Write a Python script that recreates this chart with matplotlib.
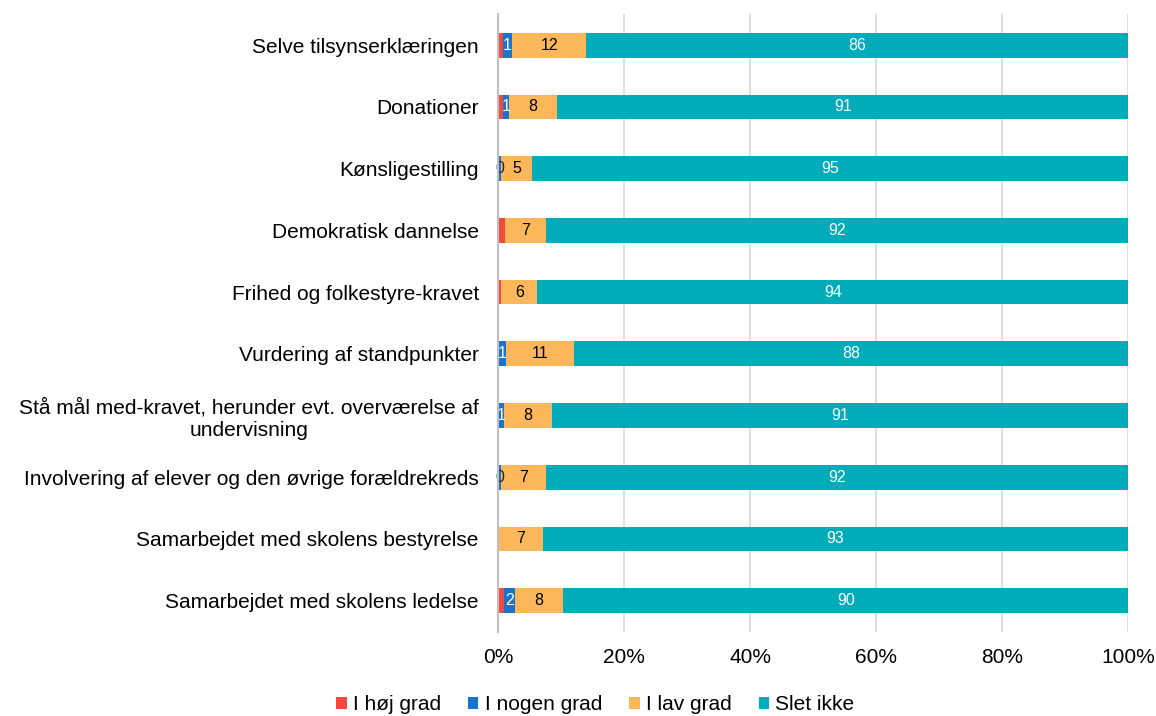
import numpy as np
import matplotlib.pyplot as plt

plt.rcParams['font.family'] = ['Liberation Sans', 'DejaVu Sans']

categories = [
    "Selve tilsynserklæringen",
    "Donationer",
    "Kønsligestilling",
    "Demokratisk dannelse",
    "Frihed og folkestyre-kravet",
    "Vurdering af standpunkter",
    "Stå mål med-kravet, herunder evt. overværelse af\nundervisning",
    "Involvering af elever og den øvrige forældrekreds",
    "Samarbejdet med skolens bestyrelse",
    "Samarbejdet med skolens ledelse",
]
hoej = [0.8, 0.7, 0.0, 1.0, 0.5, 0.0, 0.0, 0.0, 0.0, 0.9]
nogen = [1.4, 1.0, 0.4, 0.0, 0.0, 1.3, 0.9, 0.4, 0.0, 1.8]
lav = [11.8, 7.7, 5.0, 6.6, 5.7, 10.8, 7.7, 7.2, 7.1, 7.6]
slet = [86.0, 90.6, 94.6, 92.4, 93.8, 87.9, 91.4, 92.4, 92.9, 89.7]
series_names = ["I høj grad", "I nogen grad", "I lav grad", "Slet ikke"]
colors = ['#F5493D', '#1874CD', '#FDB75B', '#00ABBA']

fig = plt.figure(figsize=(11.56, 7.16), dpi=100)
ax = fig.add_axes([0.431, 0.118, 0.545, 0.862])

y = np.arange(len(categories))
left = np.zeros(len(categories))
for i, vals in enumerate([hoej, nogen, lav, slet]):
    vals = np.array(vals)
    bars = ax.barh(y, vals, left=left, height=0.4, color=colors[i],
                   label=series_names[i], zorder=3)
    for b, v, l in zip(bars, vals, left):
        cx = l + v / 2
        if i == 0:
            continue
        if i == 1:
            if v <= 0:
                continue
            col = 'white' if round(v) >= 1 else '#222222'
        elif i == 2:
            col = 'black'
        else:
            col = 'white'
        ax.text(cx, b.get_y() + b.get_height() / 2, f"{round(v):d}", ha='center',
                va='center', fontsize=11.5, color=col, zorder=4)
    left = left + vals

ax.set_xlim(0, 100)
ax.set_ylim(len(categories) - 0.5, -0.5)
ax.set_yticks(y)
ax.set_yticklabels(categories, fontsize=15, multialignment='center')
ax.set_xticks([0, 20, 40, 60, 80, 100])
ax.set_xticklabels(['0%', '20%', '40%', '60%', '80%', '100%'], fontsize=15)
ax.tick_params(axis='y', length=0, pad=14)
ax.tick_params(axis='x', length=0, pad=12)
ax.xaxis.grid(True, color='#D9D9D9', linewidth=1.2, zorder=0)
for s in ['top', 'right', 'bottom']:
    ax.spines[s].set_visible(False)
ax.spines['left'].set_color('#BFBFBF')
ax.spines['left'].set_linewidth(1.5)
ax.spines['left'].set_zorder(5)

fig.legend(loc='lower center', bbox_to_anchor=(0.515, -0.024), ncol=4, frameon=False,
           fontsize=15, handlelength=0.5, handleheight=0.5, handletextpad=0.3,
           columnspacing=1.3)

fig.savefig('out.png', dpi=100)
